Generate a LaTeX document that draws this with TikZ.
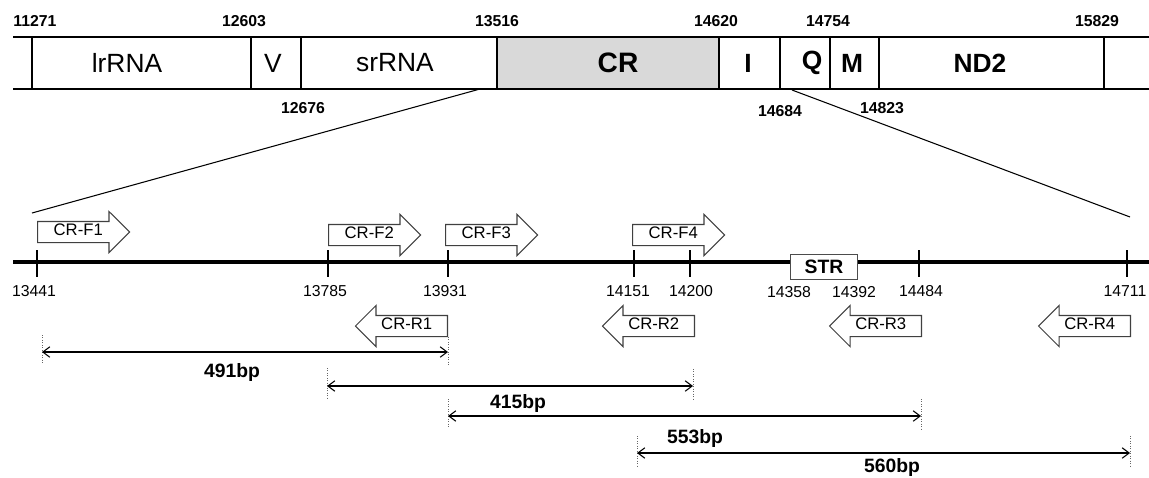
\documentclass[tikz,border=0pt]{standalone}
\usepackage{fontspec}
\setmainfont{Liberation Sans}
\usetikzlibrary{shapes.arrows, arrows.meta}

\begin{document}
\begin{tikzpicture}[x=0.02cm, y=-0.02cm,
  seglab/.style={font=\fontsize{15}{15}\selectfont},
  segbold/.style={font=\fontsize{15}{15}\selectfont\bfseries},
  toppos/.style={font=\fontsize{9}{9}\selectfont\bfseries},
  axpos/.style={font=\fontsize{9}{9}\selectfont},
  primf/.style={single arrow, draw=black!75, line width=0.6pt, fill=white, single arrow head extend=0.2cm, single arrow tip angle=90, minimum height=1.84cm, inner xsep=1pt, inner ysep=0pt, text height=0.26cm, text depth=0.14cm, font=\fontsize{9.5}{9.5}\selectfont, anchor=tail},
  primr/.style={primf, shape border rotate=180},
  dimarr/.style={{Straight Barb[length=4pt,width=6pt]}-{Straight Barb[length=4pt,width=6pt]}, line width=0.6pt},
  dimlab/.style={font=\fontsize{11}{11}\selectfont\bfseries},
  guide/.style={densely dotted, black!60, line width=0.4pt}
]
\useasboundingbox (0,0) rectangle (1149,477);

% gene map
\fill[black!15] (497,37) rectangle (719,89);
\draw[line width=1.2pt] (13,37) -- (1149,37);
\draw[line width=1.2pt] (13,89) -- (1149,89);
\foreach \x in {32,251,301,497,719,780,830,879,1104}
  \draw[line width=0.9pt] (\x,37) -- (\x,89);

\node[seglab] (lrrna) at (127,63) {lrRNA};
\node[seglab] (v) at (273,63) {V};
\node[seglab] (srrna) at (395,63) {srRNA};
\node[segbold, font=\fontsize{16}{16}\selectfont\bfseries] (cr) at (618,63) {CR};
\node[segbold] (i) at (748,63) {I};
\node[segbold] (q) at (812,63) {Q};
\node[segbold] (m) at (852,63) {M};
\node[segbold] (nd2) at (980,63) {ND2};

\node[toppos] (p11271) at (35,21) {11271};
\node[toppos] (p12603) at (244,21) {12603};
\node[toppos] (p13516) at (497,21) {13516};
\node[toppos] (p14620) at (716,21) {14620};
\node[toppos] (p14754) at (828,21) {14754};
\node[toppos] (p15829) at (1097,21) {15829};
\node[toppos] (p12676) at (303,108) {12676};
\node[toppos] (p14684) at (780,111) {14684};
\node[toppos] (p14823) at (882,108) {14823};

% zoom lines
\coordinate (zl1) at (480,89);
\coordinate (zl2) at (32,213);
\coordinate (zr1) at (792,90);
\coordinate (zr2) at (1130,217);
\draw[line width=0.6pt] (zl1) -- (zl2);
\draw[line width=0.6pt] (zr1) -- (zr2);

% control region axis
\draw[line width=2.6pt] (13,262) -- (1149,262);
\foreach \x in {37,328,448,634,690,919,1127}
  \draw[line width=1.6pt] (\x,250) -- (\x,277);
\node[draw=black!70, line width=0.6pt, fill=white, minimum width=1.34cm, minimum height=0.5cm, inner sep=0pt, font=\fontsize{11}{11}\selectfont\bfseries] (str) at (824,267) {STR};

\node[axpos] (a13441) at (34,291) {13441};
\node[axpos] (a13785) at (325,291) {13785};
\node[axpos] (a13931) at (445,291) {13931};
\node[axpos] (a14151) at (628,291) {14151};
\node[axpos] (a14200) at (691,291) {14200};
\node[axpos] (a14358) at (789,292) {14358};
\node[axpos] (a14392) at (854,292) {14392};
\node[axpos] (a14484) at (921,291) {14484};
\node[axpos] (a14711) at (1125,291) {14711};

% primers
\node[primf] (f1) at (37,232) {CR-F1};
\node[primf] (f2) at (328,235) {CR-F2};
\node[primf] (f3) at (445,235) {CR-F3};
\node[primf] (f4) at (632,235) {CR-F4};
\node[primr] (r1) at (448,326) {CR-R1};
\node[primr] (r2) at (695,326) {CR-R2};
\node[primr] (r3) at (922,326) {CR-R3};
\node[primr] (r4) at (1131,326) {CR-R4};

% amplicons
\coordinate (d1a) at (42,352);   \coordinate (d1b) at (448,352);
\coordinate (d2a) at (327,386);  \coordinate (d2b) at (693,386);
\coordinate (d3a) at (448,416);  \coordinate (d3b) at (921,416);
\coordinate (d4a) at (637,453);  \coordinate (d4b) at (1130,453);
\draw[guide] (42,335) -- (42,364);
\draw[guide] (448,337) -- (448,366);
\draw[guide] (327,368) -- (327,398);
\draw[guide] (693,369) -- (693,400);
\draw[guide] (448,399) -- (448,428);
\draw[guide] (921,399) -- (921,430);
\draw[guide] (637,436) -- (637,466);
\draw[guide] (1130,436) -- (1130,466);
\draw[dimarr] (d1a) -- (d1b);
\draw[dimarr] (d2a) -- (d2b);
\draw[dimarr] (d3a) -- (d3b);
\draw[dimarr] (d4a) -- (d4b);
\node[dimlab] (b491) at (232,372) {491bp};
\node[dimlab] (b415) at (518,403) {415bp};
\node[dimlab] (b553) at (695,438) {553bp};
\node[dimlab] (b560) at (892,467) {560bp};
\end{tikzpicture}
\end{document}
